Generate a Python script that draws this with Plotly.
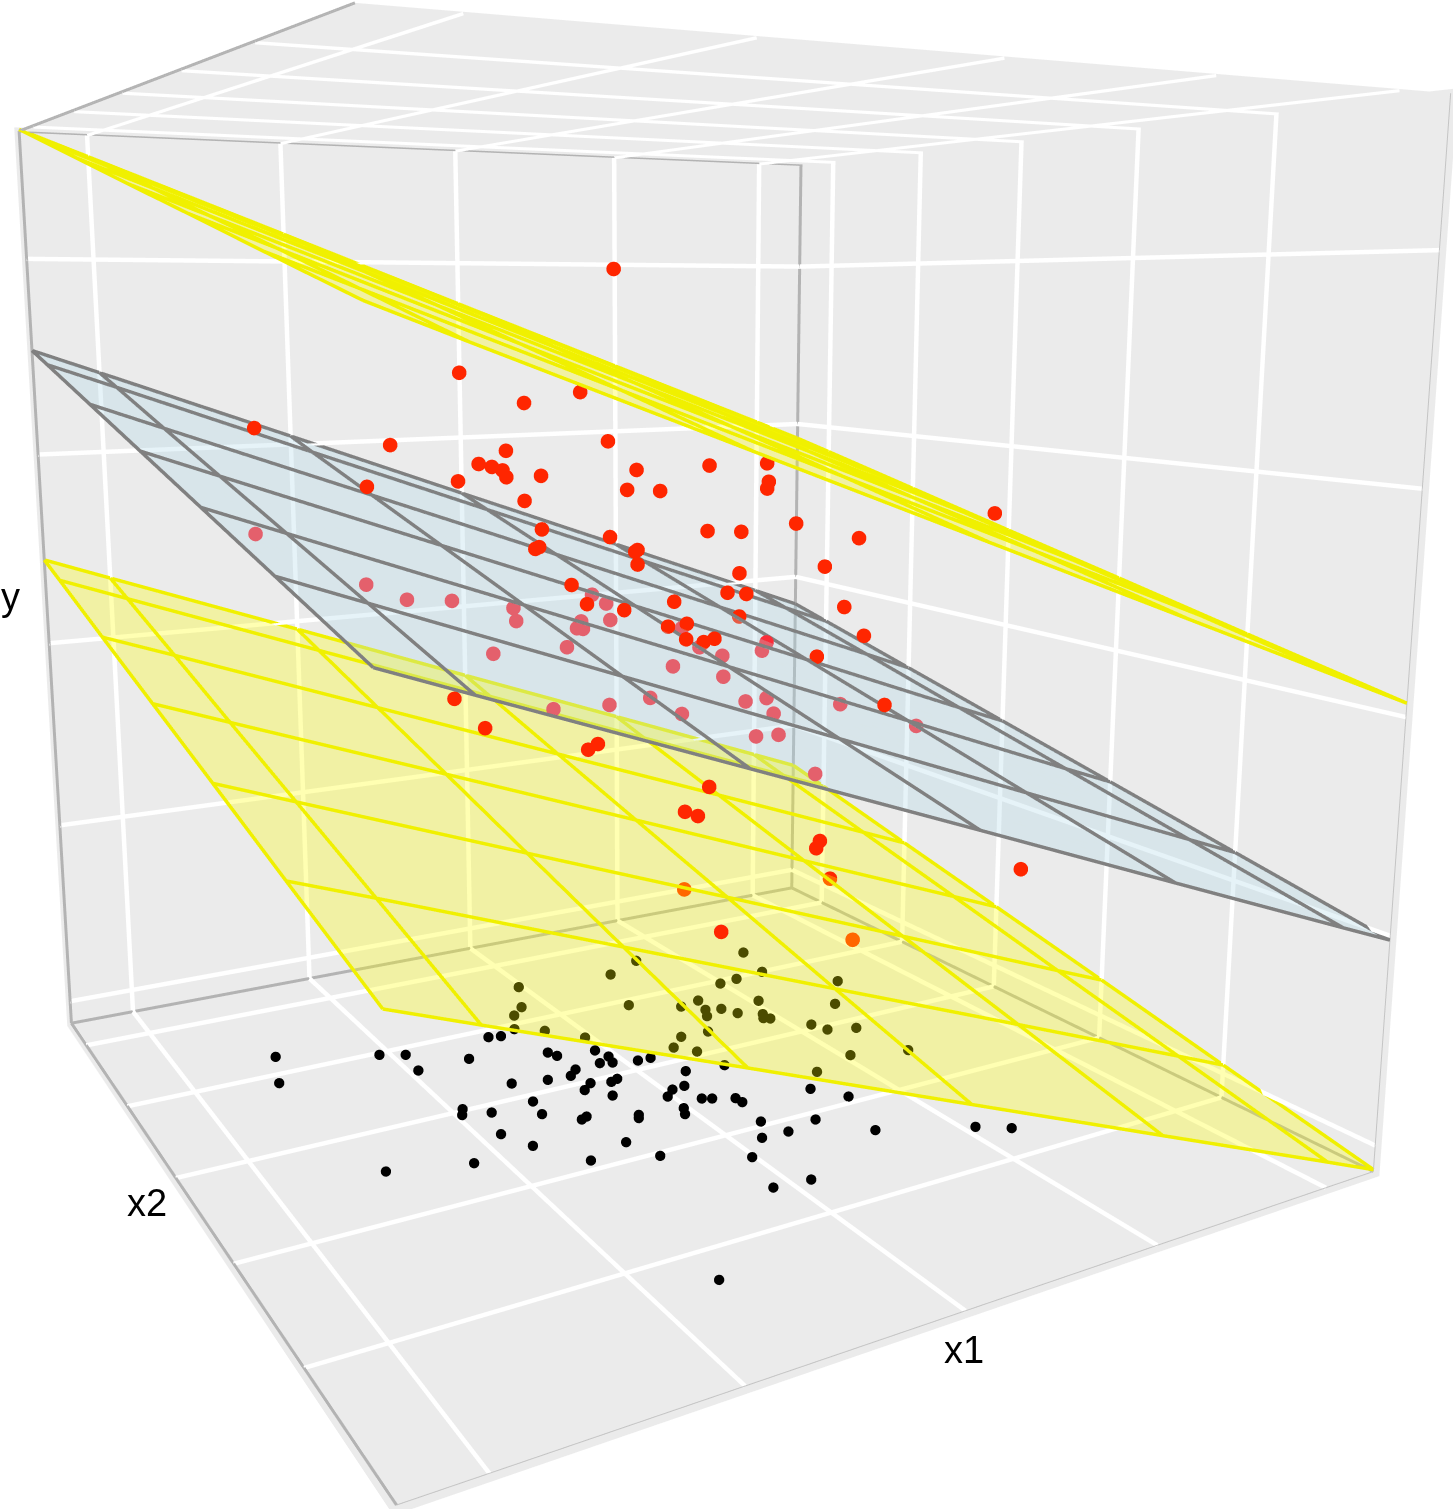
import math
import plotly.graph_objects as go

# ---- data (axes carry no numbers, scale is nominal) ----
x1 = [-0.170,-1.154,-0.645,-0.068,-1.632,-0.963,0.480,-0.339,-0.502,-0.440,-0.645,-0.259,-0.472,-0.704,-1.524,0.027,0.346,-0.852,-0.323,-0.096,
      -0.210,-0.669,-0.277,0.714,-0.294,-1.545,-1.079,-0.982,-1.000,0.634,1.251,0.881,0.183,-0.400,1.017,0.673,0.799,0.236,0.699,0.217,
      0.732,0.376,1.328,0.266,1.541,1.065,1.233,0.170,-0.057,0.583,-0.084,0.074,0.117,0.708,0.948,0.909,0.993,1.053,0.003,0.755,
      1.331,0.593,1.291,0.095,0.221,0.910,0.371,-0.049,-0.125,0.590,0.529,0.075,0.344,0.417,0.059,1.088,-0.056,1.154,-0.730,0.997,
      -0.557,-0.102,-0.691,-0.078,-0.467,-0.058,-0.173,-0.370,-0.275,-0.499,-0.282,-0.352,-0.927,0.099,-0.212,-0.301,-0.972,-0.868,-0.155,-0.308]
x2 = [-0.126,-0.688,-0.160,0.508,0.794,0.810,1.376,0.844,0.809,0.785,0.120,1.045,0.062,0.566,-0.546,0.043,0.837,-0.660,0.416,0.092,
      0.726,-0.333,-0.609,1.518,-0.645,1.169,0.888,0.559,-0.123,0.429,0.912,0.224,-1.018,-1.101,-1.659,0.524,0.375,-1.197,-0.994,-0.692,
      -0.623,-0.271,1.290,0.104,0.517,0.887,-0.196,-0.231,-0.482,0.649,-0.729,-0.601,-0.630,0.683,0.868,0.282,0.485,-0.013,-0.414,0.488,
      0.196,-1.419,-0.634,-1.190,-0.756,0.197,0.224,-1.356,-1.696,-0.800,0.213,-0.404,-0.018,-1.147,-1.720,-0.129,-0.659,-1.770,-2.326,-0.522,
      -0.490,0.302,-0.966,0.182,-0.870,1.474,1.149,-0.170,0.098,-0.484,-0.314,0.046,-0.447,0.040,-0.146,0.344,-0.054,-0.175,0.122,-0.102]
y = [9.69,7.46,6.64,6.69,5.99,5.45,5.10,5.17,4.88,4.80,4.99,4.40,4.84,4.58,5.08,4.87,3.99,4.64,3.34,3.23,
     2.70,3.35,3.33,1.85,3.02,3.26,1.97,1.75,2.15,4.71,4.47,4.30,4.78,4.91,4.25,2.93,2.94,4.05,3.47,2.65,
     2.58,1.87,0.51,1.46,0.52,0.22,0.34,1.16,1.36,0.27,1.24,1.01,1.09,-0.34,-0.83,-0.02,-0.43,-0.26,0.32,-1.03,
     -1.87,-0.12,-1.72,0.13,-0.38,-1.89,-1.61,-0.52,-0.13,-2.35,-3.66,-3.35,-4.07,-3.51,-2.75,-6.22,-4.90,-4.05,-3.13,-7.31,
     2.56,1.67,2.47,1.51,2.18,0.57,0.47,1.42,1.03,1.51,1.51,0.63,1.11,-0.88,-0.73,-1.20,-0.23,-0.89,-1.99,-1.83]
shadow_x1 = list(x1); shadow_x2 = list(x2)
shadow_x1[80], shadow_x2[80] = -0.533, -0.504
shadow_x1[88], shadow_x2[88] = -0.297, 0.112
below_plane = [25,26,27,28,49,53,54,55,56,58,59,60,62,63,64,65,66,67,68,69,81,83,85,86,87,88,89,90,91,92,93,94,95]
floor_y = -10.4688

x1_ticks = [-2,-1,0,1,2]
x2_ticks = [-2,-1,0,1,2]
y_ticks = [-10,-5,0,5,10]
x1_lim = [-2.3274,2.3055]
x2_lim = [-3.0519,2.4050]
y_lim = [-10.6355,13.1692]
x1_grid = [x1_lim[0],-2,-1,0,1,2,x1_lim[1]]
x2_grid = [x2_lim[0],-2,-1,0,1,2,x2_lim[1]]

upper_plane = [[8.95,8.33,6.46,4.59,2.72,0.85,0.28],
               [9.76,9.15,7.28,5.41,3.54,1.67,1.09],
               [10.54,9.93,8.05,6.18,4.31,2.44,1.87],
               [11.31,10.70,8.83,6.96,5.09,3.22,2.64],
               [12.09,11.48,9.61,7.73,5.86,3.99,3.42],
               [12.87,12.25,10.38,8.51,6.64,4.77,4.20],
               [13.18,12.57,10.70,8.82,6.95,5.08,4.51]]
fit_plane = [[3.45,2.84,0.99,-0.86,-2.72,-4.57,-5.13],
             [4.26,3.65,1.80,-0.05,-1.91,-3.76,-4.32],
             [5.03,4.42,2.57,0.72,-1.13,-2.99,-3.55],
             [5.80,5.19,3.34,1.49,-0.36,-2.22,-2.78],
             [6.57,5.96,4.11,2.26,0.41,-1.44,-2.01],
             [7.34,6.74,4.88,3.03,1.18,-0.67,-1.24],
             [7.65,7.05,5.20,3.34,1.49,-0.36,-0.93]]
lower_plane = [[-2.02,-2.63,-4.48,-6.34,-8.20,-10.05,-10.62],
               [-1.21,-1.81,-3.67,-5.53,-7.38,-9.24,-9.81],
               [-0.43,-1.04,-2.90,-4.75,-6.61,-8.47,-9.03],
               [0.34,-0.27,-2.12,-3.98,-5.84,-7.69,-8.26],
               [1.11,0.51,-1.35,-3.21,-5.06,-6.92,-7.49],
               [1.89,1.28,-0.58,-2.43,-4.29,-6.14,-6.71],
               [2.20,1.59,-0.26,-2.12,-3.97,-5.83,-6.40]]

# ---- view ----
W, H = 1453, 1509
EYE = (-0.91769,-1.59693,0.32552)
FOCAL, CX, CY = 1850.51, 661.92, 625.34
canvas_w, canvas_h = 1586, 1772
left, top = CX-canvas_w/2, CY-canvas_h/2
fovy = 2*math.atan(canvas_h/2/FOCAL)

fig = go.Figure()
flat = dict(ambient=1,diffuse=0,specular=0,fresnel=0,roughness=1)
pad = 0.004
def padded(r):
    s = r[1]-r[0]
    return [r[0]-pad*s, r[1]+pad*s]

def seg(L,a,b):
    for k in range(3):
        L[k].extend([a[k],b[k],None])

# ceiling panel
fig.add_trace(go.Surface(x=x1_lim,y=x2_lim,z=[[y_lim[1]]*2]*2,colorscale=[[0,'#ebebeb'],[1,'#ebebeb']],showscale=False,lighting=flat,hoverinfo='skip'))
# white grid
G = ([],[],[])
zc = y_lim[1]-0.02; zf = y_lim[0]; xw = x1_lim[1]; yw = x2_lim[1]
for t in x1_ticks:
    seg(G,(t,x2_lim[0],zc),(t,x2_lim[1],zc)); seg(G,(t,x2_lim[0],zf),(t,x2_lim[1],zf)); seg(G,(t,yw,y_lim[0]),(t,yw,y_lim[1]))
for t in x2_ticks:
    seg(G,(x1_lim[0],t,zc),(x1_lim[1],t,zc)); seg(G,(x1_lim[0],t,zf),(x1_lim[1],t,zf)); seg(G,(xw,t,y_lim[0]),(xw,t,y_lim[1]))
for t in y_ticks:
    seg(G,(x1_lim[0],yw,t),(x1_lim[1],yw,t)); seg(G,(xw,x2_lim[0],t),(xw,x2_lim[1],t))
fig.add_trace(go.Scatter3d(x=G[0],y=G[1],z=G[2],mode='lines',line=dict(color='white',width=9),hoverinfo='skip'))
# box edges
a0,a1 = x1_lim; b0,b1 = x2_lim; c0,c1 = y_lim
K = ([],[],[])
for p,q in [((a0,b1,c1),(a0,b0,c1)),((a0,b1,c1),(a1,b1,c1)),((a0,b1,c1),(a0,b1,c0)),((a1,b1,c1),(a1,b1,c0)),
            ((a0,b0,c0),(a0,b1,c0)),((a0,b1,c0),(a1,b1,c0)),((a1,b1,c0),(a1,b0,c0))]:
    seg(K,p,q)
fig.add_trace(go.Scatter3d(x=K[0],y=K[1],z=K[2],mode='lines',line=dict(color='#b3b3b3',width=6),hoverinfo='skip'))
K2 = ([],[],[])
for p,q in [((a1,b0,c0),(a1,b0,c1)),((a0,b0,c0),(a1,b0,c0))]:
    seg(K2,p,q)
fig.add_trace(go.Scatter3d(x=K2[0],y=K2[1],z=K2[2],mode='lines',line=dict(color='#c4c4c4',width=2),hoverinfo='skip'))
# planes with their mesh lines
for zz,col,fill in [(upper_plane,'#f0f000','yellow'),(fit_plane,'#808080','lightblue'),(lower_plane,'#f0f000','yellow')]:
    fig.add_trace(go.Surface(x=x1_grid,y=x2_grid,z=zz,colorscale=[[0,fill],[1,fill]],showscale=False,opacity=.3,lighting=flat,hoverinfo='skip'))
    lx,ly,lz = [],[],[]
    for i,a in enumerate(x1_grid):
        for j,b in enumerate(x2_grid):
            lx.append(a); ly.append(b); lz.append(zz[j][i]+.03)
        lx.append(None); ly.append(None); lz.append(None)
    for j,b in enumerate(x2_grid):
        for i,a in enumerate(x1_grid):
            lx.append(a); ly.append(b); lz.append(zz[j][i]+.03)
        lx.append(None); ly.append(None); lz.append(None)
    fig.add_trace(go.Scatter3d(x=lx,y=ly,z=lz,mode='lines',line=dict(color=col,width=7),hoverinfo='skip'))
colors = ['#fb2c38' if i in below_plane else '#ff2600' for i in range(len(y))]
fig.add_trace(go.Scatter3d(x=x1,y=x2,z=y,mode='markers',marker=dict(size=8.5,color=colors,line=dict(width=0))))
fig.add_trace(go.Scatter3d(x=shadow_x1,y=shadow_x2,z=[floor_y]*len(y),mode='markers',marker=dict(size=6,color='black',line=dict(width=0))))

axis = dict(showbackground=True,backgroundcolor='#ebebeb',showgrid=False,showticklabels=False,ticks='',zeroline=False,showline=False,showspikes=False,title=dict(text=''))
fig.update_layout(width=canvas_w,height=canvas_h,margin=dict(l=0,r=0,t=0,b=0),showlegend=False,paper_bgcolor='white',
    scene=dict(xaxis=dict(axis,range=padded(x1_lim),tickvals=x1_ticks),
               yaxis=dict(axis,range=padded(x2_lim),tickvals=x2_ticks),
               zaxis=dict(axis,range=padded(y_lim),tickvals=y_ticks),
               aspectmode='manual',aspectratio=dict(x=1+2*pad,y=1+2*pad,z=1+2*pad),
               camera=dict(eye=dict(x=EYE[0],y=EYE[1],z=EYE[2]),center=dict(x=0,y=0,z=0),up=dict(x=0,y=0,z=1),projection=dict(type='perspective'))))
label_font = dict(family='Liberation Sans',size=38,color='black')
for t,u,v in [('x1',964,1350),('x2',147,1203),('y',10,597)]:
    fig.add_annotation(text=t,x=(u-left)/canvas_w,y=1-(v-top)/canvas_h,xref='paper',yref='paper',showarrow=False,font=label_font,xanchor='center',yanchor='middle')
js = ("document.body.style.margin='0';document.documentElement.style.overflow='hidden';"
      "document.body.style.position='absolute';document.body.style.left='%.2fpx';document.body.style.top='%.2fpx';"
      "var gd=document.getElementById('{plot_id}');var gp=gd._fullLayout.scene._scene.glplot;gp.fovy=%.6f;"
      "var gl=gp.gl;gl.bindFramebuffer(gl.FRAMEBUFFER,null);gl.colorMask(true,true,true,true);gl.depthMask(true);gl.clearColor(0,0,0,0);gl.clear(gl.COLOR_BUFFER_BIT|gl.DEPTH_BUFFER_BIT);"
      "gp.redraw();"
      % (left,top,fovy))
fig.write_html("out.html",config={'displayModeBar':False},post_script=js)
